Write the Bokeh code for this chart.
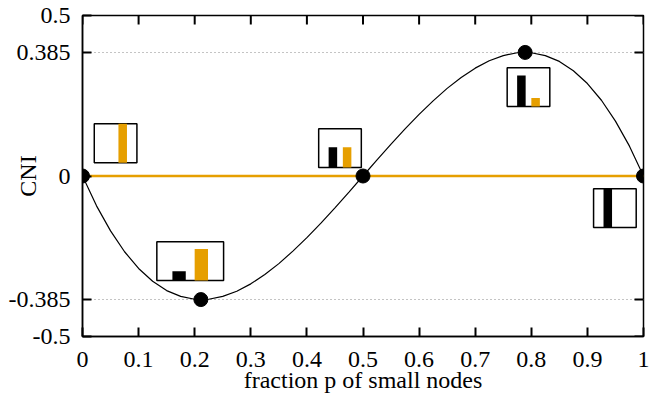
from bokeh.plotting import figure
from bokeh.models import (Range1d, FixedTicker, ColumnDataSource)
from bokeh.embed import file_html
from bokeh.resources import INLINE

# ---------------- data ----------------
p_vals = [0.0, 0.025, 0.05, 0.075, 0.1, 0.125, 0.15, 0.175, 0.2, 0.211, 0.225, 0.25,
          0.275, 0.3, 0.325, 0.35, 0.375, 0.4, 0.425, 0.45, 0.475, 0.5,
          0.525, 0.55, 0.575, 0.6, 0.625, 0.65, 0.675, 0.7, 0.725, 0.75,
          0.775, 0.789, 0.8, 0.825, 0.85, 0.875, 0.9, 0.925, 0.95, 0.975, 1.0]
cni_vals = [0.0, -0.093, -0.171, -0.236, -0.288, -0.328, -0.357, -0.375, -0.384, -0.385, -0.384, -0.375,
            -0.359, -0.336, -0.307, -0.273, -0.234, -0.192, -0.147, -0.099, -0.050, 0.0,
            0.050, 0.099, 0.147, 0.192, 0.234, 0.273, 0.307, 0.336, 0.359, 0.375,
            0.384, 0.385, 0.384, 0.375, 0.357, 0.328, 0.288, 0.236, 0.171, 0.093, 0.0]

dot_p = [0.0, 0.211, 0.5, 0.789, 1.0]
dot_cni = [0.0, -0.385, 0.0, 0.385, 0.0]

zero_p = [0.0, 1.0]
zero_cni = [0.0, 0.0]

# inset histograms: relative heights of the black and orange bars
inset_black = [0.0, 0.24, 0.52, 0.80, 1.0]
inset_orange = [1.0, 0.81, 0.52, 0.22, 0.0]

x_ticks = [0, 0.1, 0.2, 0.3, 0.4, 0.5, 0.6, 0.7, 0.8, 0.9, 1]
x_tick_labels = ["0", "0.1", "0.2", "0.3", "0.4", "0.5", "0.6", "0.7", "0.8", "0.9", "1"]
y_ticks = [-0.5, -0.385, 0, 0.385, 0.5]
y_tick_labels = ["-0.5", "-0.385", "0", "0.385", "0.5"]
grid_ticks = [-0.385, 0.385]

x_title = "fraction p of small nodes"
y_title = "CNI"

# ---------------- layout constants ----------------
inset_cx = [0.059, 0.192, 0.459, 0.795, 0.949]
inset_cy = [0.102, -0.265, 0.087, 0.277, -0.100]
inset_w = [0.076, 0.119, 0.076, 0.076, 0.076]
inset_h = 0.121
TICK_LEN_X = 9 / 561.0   # tick length in x data units (mirror ticks on right)
TICK_LEN_Y = 9 / 321.0   # tick length in y data units (mirror ticks on top)

FONT = "Liberation Serif"
ORANGE = "#E69F00"
FS = "24px"

p = figure(width=650, height=401, x_range=Range1d(0, 1), y_range=Range1d(-0.5, 0.5),
           output_backend="svg", toolbar_location=None,
           min_border_left=82, min_border_right=7, min_border_top=15, min_border_bottom=65)
p.background_fill_color = "white"
p.border_fill_color = "white"
p.outline_line_color = "black"
p.outline_line_width = 1.5

# axes
p.xaxis.ticker = FixedTicker(ticks=x_ticks)
p.xaxis.major_label_overrides = {t: l for t, l in zip(x_ticks, x_tick_labels)}
p.yaxis.ticker = FixedTicker(ticks=y_ticks)
p.yaxis.major_label_overrides = {t: l for t, l in zip(y_ticks, y_tick_labels)}
for ax in (p.xaxis, p.yaxis):
    ax.major_tick_in = 9
    ax.major_tick_out = 0
    ax.minor_tick_in = 0
    ax.minor_tick_out = 0
    ax.major_tick_line_width = 2
    ax.axis_line_width = 1.5
    ax.major_label_text_font = FONT
    ax.major_label_text_font_size = FS
    ax.major_label_text_color = "black"
    ax.axis_label_text_font = FONT
    ax.axis_label_text_font_style = "normal"
    ax.axis_label_text_color = "black"
p.xaxis.major_label_standoff = 15
p.yaxis.major_label_standoff = 12

p.xaxis.axis_label = x_title
p.xaxis.axis_label_text_font_size = FS
p.xaxis.axis_label_standoff = -3
p.yaxis.axis_label = y_title
p.yaxis.axis_label_text_font_size = "24px"
p.yaxis.axis_label_standoff = -35

# mirror ticks on top and right edges
n_x = len(x_ticks)
n_y = len(y_ticks)
p.segment(x0=x_ticks, y0=[0.5] * n_x, x1=x_ticks, y1=[0.5 - TICK_LEN_Y] * n_x,
          line_color="black", line_width=2)
p.segment(x0=[1.0] * n_y, y0=y_ticks, x1=[1.0 - TICK_LEN_X] * n_y, y1=y_ticks,
          line_color="black", line_width=2)

# grid: only dotted lines at +-0.385
p.xgrid.visible = False
p.ygrid.ticker = FixedTicker(ticks=grid_ticks)
p.ygrid.grid_line_color = "#888888"
p.ygrid.grid_line_dash = "1 3"
p.ygrid.grid_line_width = 1

# curve, zero line, dots
p.line(p_vals, cni_vals, line_color="black", line_width=1.2)
p.line(zero_p, zero_cni, line_color=ORANGE, line_width=2.5)
p.scatter(dot_p, dot_cni, size=14, fill_color="black", line_color="black")

# insets
box_l, box_r, box_b, box_t = [], [], [], []
bar_l, bar_r, bar_b, bar_t, bar_c = [], [], [], [], []
for cx, cy, w, hb, ho in zip(inset_cx, inset_cy, inset_w, inset_black, inset_orange):
    l = cx - w / 2
    b = cy - inset_h / 2
    box_l.append(l); box_r.append(l + w); box_b.append(b); box_t.append(b + inset_h)
    bw = 0.2 * w
    for frac, pos, col in ((hb, 1 / 3, "black"), (ho, 2 / 3, ORANGE)):
        if frac > 0:
            c = l + pos * w
            bar_l.append(c - bw / 2); bar_r.append(c + bw / 2)
            bar_b.append(b); bar_t.append(b + frac * inset_h); bar_c.append(col)

p.quad(left=box_l, right=box_r, bottom=box_b, top=box_t,
       fill_color="white", line_color="black", line_width=1.5)
p.quad(source=ColumnDataSource(dict(l=bar_l, r=bar_r, b=bar_b, t=bar_t, c=bar_c)),
       left="l", right="r", bottom="b", top="t", fill_color="c", line_color=None)

open("out.html", "w").write(file_html(p, INLINE))
